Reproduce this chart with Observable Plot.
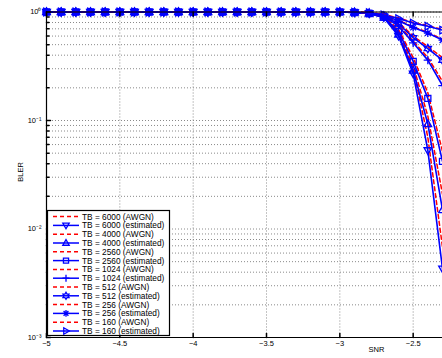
<!DOCTYPE html>
<html><head><meta charset="utf-8">
<script src="https://cdn.jsdelivr.net/npm/d3@7"></script>
<script src="https://cdn.jsdelivr.net/npm/@observablehq/plot@0.6"></script>
<style>
html,body{margin:0;padding:0;background:#fff;overflow:hidden;}
</style></head><body><div id="chart"></div>
<script>
// ---- data ----
const snr = [-5.0,-4.9,-4.8,-4.7,-4.6,-4.5,-4.4,-4.3,-4.2,-4.1,-4.0,-3.9,-3.8,-3.7,-3.6,-3.5,-3.4,-3.3,-3.2,-3.1,-3.0,-2.9,-2.8,-2.7,-2.6,-2.5,-2.4,-2.3];
const tbSizes = [6000, 4000, 2560, 1024, 512, 256, 160];
const awgn6000 = [1,1,1,1,1,1,1,1,1,1,1,1,1,1,1,1,1,1,1,1,1,0.995,0.975,0.9,0.63,0.3,0.07,0.0068];
const est6000  = [1,1,1,1,1,1,1,1,1,1,1,1,1,1,1,1,1,1,1,1,1,0.99,0.97,0.89,0.6,0.27,0.053,0.0043];
const awgn4000 = [1,1,1,1,1,1,1,1,1,1,1,1,1,1,1,1,1,1,1,1,1,0.995,0.975,0.9,0.65,0.32,0.11,0.021];
const est4000  = [1,1,1,1,1,1,1,1,1,1,1,1,1,1,1,1,1,1,1,1,1,0.99,0.97,0.89,0.62,0.29,0.093,0.015];
const awgn2560 = [1,1,1,1,1,1,1,1,1,1,1,1,1,1,1,1,1,1,1,1,1,0.995,0.975,0.91,0.69,0.38,0.18,0.052];
const est2560  = [1,1,1,1,1,1,1,1,1,1,1,1,1,1,1,1,1,1,1,1,1,0.99,0.97,0.9,0.66,0.35,0.16,0.042];
const awgn1024 = [1,1,1,1,1,1,1,1,1,1,1,1,1,1,1,1,1,1,1,1,1,0.995,0.98,0.92,0.76,0.54,0.38,0.23];
const est1024  = [1,1,1,1,1,1,1,1,1,1,1,1,1,1,1,1,1,1,1,1,1,0.99,0.975,0.91,0.74,0.52,0.36,0.21];
const awgn512  = [1,1,1,1,1,1,1,1,1,1,1,1,1,1,1,1,1,1,1,1,1,0.995,0.98,0.93,0.8,0.6,0.48,0.38];
const est512   = [1,1,1,1,1,1,1,1,1,1,1,1,1,1,1,1,1,1,1,1,1,0.995,0.98,0.92,0.78,0.58,0.46,0.36];
const awgn256  = [1,1,1,1,1,1,1,1,1,1,1,1,1,1,1,1,1,1,1,1,1,0.995,0.985,0.94,0.84,0.73,0.65,0.56];
const est256   = [1,1,1,1,1,1,1,1,1,1,1,1,1,1,1,1,1,1,1,1,1,0.995,0.98,0.93,0.83,0.72,0.64,0.55];
const awgn160  = [1,1,1,1,1,1,1,1,1,1,1,1,1,1,1,1,1,1,1,1,1,0.997,0.99,0.95,0.88,0.8,0.75,0.69];
const est160   = [1,1,1,1,1,1,1,1,1,1,1,1,1,1,1,1,1,1,1,1,1,0.995,0.985,0.94,0.87,0.79,0.74,0.68];
const xTicks = [-5, -4.5, -4, -3.5, -3, -2.5];
const xTickLabels = ["\u22125", "\u22124.5", "\u22124", "\u22123.5", "\u22123", "\u22122.5"];
const yMajor = [1, 0.1, 0.01, 0.001];
const yTickLabels = ["10\u2070", "10\u207B\u00B9", "10\u207B\u00B2", "10\u207B\u00B3"];
const yMinor = [0.002,0.003,0.004,0.005,0.006,0.007,0.008,0.009,0.02,0.03,0.04,0.05,0.06,0.07,0.08,0.09,0.2,0.3,0.4,0.5,0.6,0.7,0.8,0.9];

// ---- marker symbols (MATLAB-like) ----
const rad = s => Math.sqrt(s / Math.PI);
const symDown = {draw(c, s){const h=rad(s); c.moveTo(-h,-0.7*h); c.lineTo(h,-0.7*h); c.lineTo(0,1.05*h); c.closePath();}};
const symUp = {draw(c, s){const h=rad(s); c.moveTo(-h,0.7*h); c.lineTo(h,0.7*h); c.lineTo(0,-1.05*h); c.closePath();}};
const symSquare = {draw(c, s){const h=rad(s)*0.8; c.moveTo(-h,-h); c.lineTo(h,-h); c.lineTo(h,h); c.lineTo(-h,h); c.closePath();}};
const symPlus = {draw(c, s){const h=rad(s)*1.1; c.moveTo(-h,0); c.lineTo(h,0); c.moveTo(0,-h); c.lineTo(0,h);}};
const symHex = {draw(c, s){const h=rad(s)*1.1, r=h/Math.sqrt(3);
  for(let k=0;k<12;k++){const a=-Math.PI/2+k*Math.PI/6, q=k%2?r:h; const px=q*Math.cos(a), py=q*Math.sin(a); k?c.lineTo(px,py):c.moveTo(px,py);} c.closePath();}};
const symAst = {draw(c, s){const h=rad(s)*1.05, d=h*0.72;
  c.moveTo(-h,0); c.lineTo(h,0); c.moveTo(0,-h); c.lineTo(0,h); c.moveTo(-d,-d); c.lineTo(d,d); c.moveTo(-d,d); c.lineTo(d,-d);}};
const symRight = {draw(c, s){const h=rad(s); c.moveTo(-0.7*h,-h); c.lineTo(-0.7*h,h); c.lineTo(1.05*h,0); c.closePath();}};

const series = [
  {tb: 6000, awgn: awgn6000, est: est6000, sym: symDown},
  {tb: 4000, awgn: awgn4000, est: est4000, sym: symUp},
  {tb: 2560, awgn: awgn2560, est: est2560, sym: symSquare},
  {tb: 1024, awgn: awgn1024, est: est1024, sym: symPlus},
  {tb: 512,  awgn: awgn512,  est: est512,  sym: symHex},
  {tb: 256,  awgn: awgn256,  est: est256,  sym: symAst},
  {tb: 160,  awgn: awgn160,  est: est160,  sym: symRight}
];
const rows = arr => snr.map((x, i) => ({snr: x, bler: arr[i]}));

const BLUE = "#0000ff", RED = "#ff0000";
const FONT = "'Liberation Sans', Arial, Helvetica, sans-serif";
const tickShape = {draw(c, l){c.moveTo(0,0); c.lineTo(0,-l);}};
const gridStyle = {stroke: "#8a8a8a", strokeOpacity: 1, strokeDasharray: "1,2", strokeWidth: 1};

const marks = [
  Plot.gridX(xTicks, gridStyle),
  Plot.gridY(yMajor.concat(yMinor), gridStyle),
  Plot.text(xTicks, {x: d => d, frameAnchor: "bottom", dy: 8.5, text: (d, i) => xTickLabels[i], fontSize: 7.5}),
  Plot.text(yMajor, {y: d => d, frameAnchor: "left", dx: -5, textAnchor: "end", text: (d, i) => yTickLabels[i], fontSize: 7.5}),
];
for (const s of series) {
  marks.push(Plot.line(rows(s.awgn), {x: "snr", y: "bler", stroke: RED, strokeWidth: 1.5, strokeDasharray: "4,3"}));
  marks.push(Plot.line(rows(s.est), {x: "snr", y: "bler", stroke: BLUE, strokeWidth: 1.6}));
  marks.push(Plot.dot(rows(s.est), {x: "snr", y: "bler", symbol: s.sym, r: 3.8, stroke: BLUE, fill: "none", strokeWidth: 1.3}));
}
marks.push(
  Plot.ruleY([1], {stroke: "black", strokeWidth: 1}),
  Plot.ruleY([0.001], {stroke: "black", strokeWidth: 1.2}),
  Plot.ruleX([-5], {stroke: "black", strokeWidth: 1.2}),
  Plot.vector(xTicks, {x: d => d, frameAnchor: "bottom", length: 4, rotate: 0, anchor: "start", shape: tickShape, stroke: "black"}),
  Plot.vector(xTicks, {x: d => d, frameAnchor: "top", length: 4, rotate: 180, anchor: "start", shape: tickShape, stroke: "black"}),
  Plot.vector(yMajor, {y: d => d, frameAnchor: "left", length: 4, rotate: 90, anchor: "start", shape: tickShape, stroke: "black"}),
  Plot.vector(yMinor, {y: d => d, frameAnchor: "left", length: 2.5, rotate: 90, anchor: "start", shape: tickShape, stroke: "black"}),
  Plot.text(["SNR"], {frameAnchor: "bottom", dx: 132, dy: 14, fontSize: 7.5}),
  Plot.text(["BLER"], {frameAnchor: "left", dx: -26, dy: 7, rotate: -90, fontSize: 7.5})
);

const chart = Plot.plot({
  width: 442, height: 358,
  marginLeft: 46, marginRight: 0, marginTop: 11.5, marginBottom: 21,
  style: {fontFamily: FONT, fontSize: "7.5px", background: "white", color: "black"},
  x: {domain: [-5, -2.3], axis: null},
  y: {type: "log", domain: [0.001, 1], axis: null},
  marks
});
document.getElementById("chart").appendChild(chart);

// ---- legend (inside plot, lower-left) ----
const svg = d3.select(chart);
const lg = svg.append("g").attr("font-family", FONT).attr("font-size", 8.3).attr("text-anchor", "start");
const lx = 47.5, ly = 210.5, lw = 122, lh = 125, step = 8.8, y0 = 216.6;
lg.append("rect").attr("x", lx).attr("y", ly).attr("width", lw).attr("height", lh)
  .attr("fill", "white").attr("stroke", "black").attr("stroke-width", 1.2);
series.forEach((s, k) => {
  const yA = y0 + (2 * k) * step, yE = y0 + (2 * k + 1) * step;
  lg.append("line").attr("x1", 53).attr("x2", 79).attr("y1", yA).attr("y2", yA)
    .attr("stroke", RED).attr("stroke-width", 1.5).attr("stroke-dasharray", "4,3");
  lg.append("text").attr("x", 82).attr("y", yA).attr("dy", "0.35em").attr("text-anchor", "start").text(`TB = ${s.tb} (AWGN)`);
  lg.append("line").attr("x1", 53).attr("x2", 79).attr("y1", yE).attr("y2", yE)
    .attr("stroke", BLUE).attr("stroke-width", 1.5);
  lg.append("path").attr("transform", `translate(66,${yE})`).attr("d", d3.symbol(s.sym, Math.PI * 3.2 * 3.2)())
    .attr("fill", "none").attr("stroke", BLUE).attr("stroke-width", 1.3);
  lg.append("text").attr("x", 82).attr("y", yE).attr("dy", "0.35em").attr("text-anchor", "start").text(`TB = ${s.tb} (estimated)`);
});
</script></body></html>
